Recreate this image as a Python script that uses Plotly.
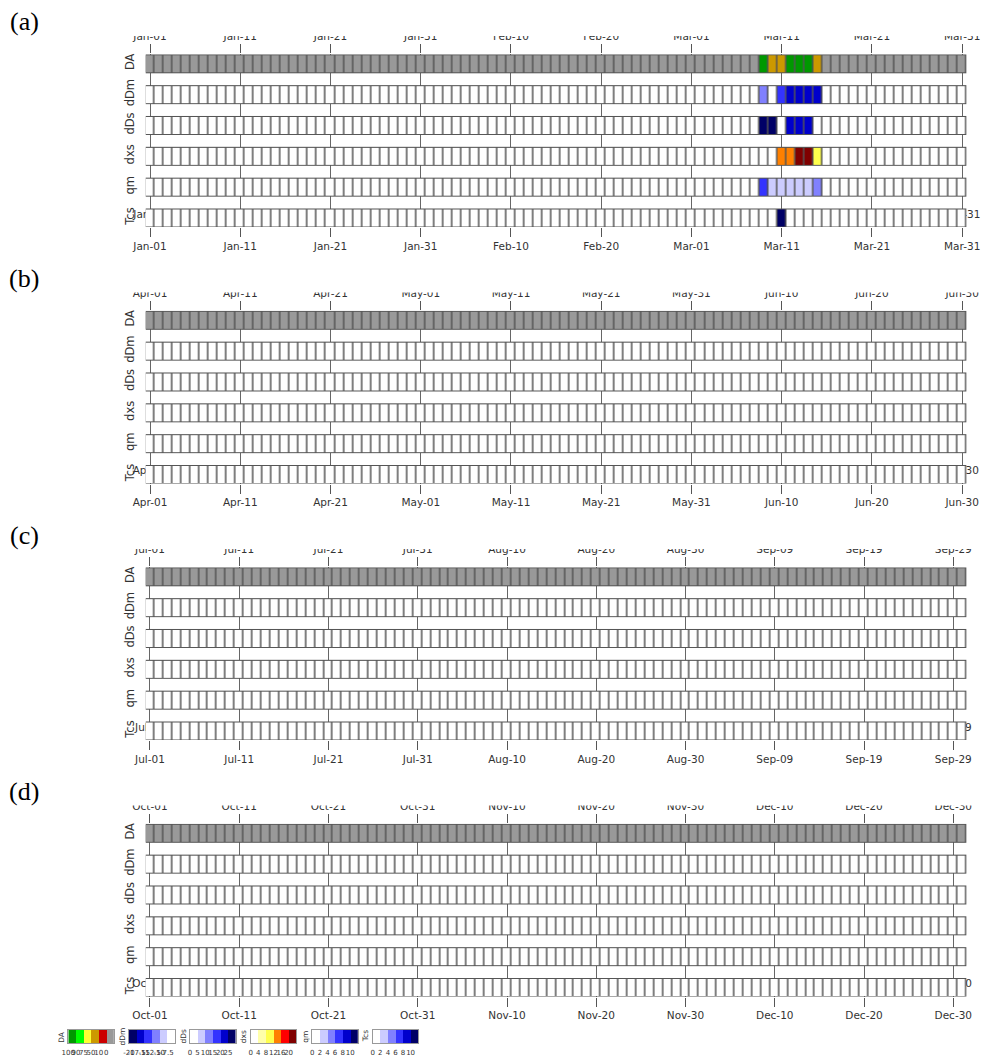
import numpy as np
import pandas as pd
import plotly.graph_objects as go

W, H = 982, 1061

# ---------------- data ----------------
quarter_starts = ["2016-01-01", "2016-04-01", "2016-07-01", "2016-10-01"]
quarter_ends = ["2016-03-31", "2016-06-30", "2016-09-30", "2016-12-31"]
panel_tags = ["(a)", "(b)", "(c)", "(d)"]
variables = ["DA", "dDm", "dDs", "dxs", "qm", "Tcs"]

# days with an event (all other days: DA = 0 -> no data, indices = 0)
event_dates = ["2016-03-09", "2016-03-10", "2016-03-11", "2016-03-12",
               "2016-03-13", "2016-03-14", "2016-03-15"]
DA_event = [95, 30, 30, 95, 95, 95, 30]
dDm_event = [-11.0, -6.0, -13.5, -16.0, -16.0, -16.0, -16.0]
dDs_event = [27, 27, 2, 22, 22, 22, 2]
dxs_event = [1, 1, 14, 14, 22, 22, 10]
qm_event = [7, 3, 3, 3, 3, 3, 5]
Tcs_event = [0, 0, 11, 0, 0, 0, 0]

# legend bin boundaries (tick labels) and colours
DA_bounds = [100, 90, 75, 50, 10, 0]
dDm_bounds = [-20, -17.5, -15, -12.5, -10, -7.5]
dDs_bounds = [0, 5, 10, 15, 20, 25]
dxs_bounds = [0, 4, 8, 12, 16, 20]
qm_bounds = [0, 2, 4, 6, 8, 10]
Tcs_bounds = [0, 2, 4, 6, 8, 10]

DA_colors = ["#009900", "#00ff00", "#ffff33", "#cc9900", "#cc0000", "#999999"]
dDm_colors = ["#000066", "#0000cc", "#3333ff", "#8080ff", "#ccccff", "#ffffff"]
dDs_colors = ["#ffffff", "#ccccff", "#8080ff", "#3333ff", "#0000cc", "#000066"]
dxs_colors = ["#ffffff", "#ffffaa", "#ffff4d", "#ff8000", "#ff0000", "#800000"]
qm_colors = ["#ffffff", "#ccccff", "#8080ff", "#3333ff", "#0000cc", "#000066"]
Tcs_colors = ["#ffffff", "#ccccff", "#8080ff", "#3333ff", "#0000cc", "#000066"]

events = {"DA": DA_event, "dDm": dDm_event, "dDs": dDs_event,
          "dxs": dxs_event, "qm": qm_event, "Tcs": Tcs_event}
bounds = {"DA": DA_bounds, "dDm": dDm_bounds, "dDs": dDs_bounds,
          "dxs": dxs_bounds, "qm": qm_bounds, "Tcs": Tcs_bounds}
colors = {"DA": DA_colors, "dDm": dDm_colors, "dDs": dDs_colors,
          "dxs": dxs_colors, "qm": qm_colors, "Tcs": Tcs_colors}

all_days = pd.date_range(quarter_starts[0], quarter_ends[-1], freq="D")
series = {}
for v in variables:
    s = pd.Series(0.0, index=all_days)
    s[pd.to_datetime(event_dates)] = events[v]
    series[v] = s


def to_bin(vals, b):
    v = np.asarray(vals, float)
    b = np.asarray(b, float)
    if b[0] > b[-1]:
        v, b = -v, -b
    idx = np.digitize(v, b) - 1
    idx = np.where(np.isnan(v), len(b) - 1, idx)
    return np.clip(idx, 0, len(b) - 1)


def discrete_scale(cols):
    n = len(cols)
    cs = []
    for i, c in enumerate(cols):
        cs.append([i / n, c])
        cs.append([(i + 1) / n, c])
    return cs


# ---------------- layout helpers ----------------
def yp(px):
    return 1 - px / H


def xp(px):
    return px / W


def akey(letter, n):
    return f"{letter}axis" if n == 1 else f"{letter}axis{n}"


def aref(letter, n):
    return letter if n == 1 else f"{letter}{n}"


counter = {"x": 0, "y": 0}


def new(letter):
    counter[letter] += 1
    return counter[letter]


layout = dict(width=W, height=H, margin=dict(l=0, r=0, t=0, b=0, autoexpand=False),
              paper_bgcolor="white", plot_bgcolor="white", showlegend=False,
              annotations=[], shapes=[])
traces = []

X0, X1 = 145.5, 966.7
ROW_H = 0.6
PANEL_STEP = 256.5
tickfont = dict(family="DejaVu Sans", size=10.5, color="#333333")

for p in range(4):
    off = PANEL_STEP * p
    xm, xt, xf = new("x"), new("x"), new("x")
    ym = new("y")
    days = pd.date_range(quarter_starts[p], quarter_ends[p], freq="D")
    edges = pd.date_range(quarter_starts[p], pd.Timestamp(quarter_ends[p]) + pd.Timedelta(days=1), freq="D")
    rng = [edges[0].strftime("%Y-%m-%d"), edges[-1].strftime("%Y-%m-%d")]
    tick_days = days[::10]
    tickvals = [(d + pd.Timedelta(hours=12)).strftime("%Y-%m-%d %H:%M") for d in tick_days]
    ticktext = [d.strftime("%b-%d") for d in tick_days]
    edge_str = [e.strftime("%Y-%m-%d") for e in edges]

    for k, v in enumerate(variables):
        yedges = [k, k + ROW_H]
        traces.append(go.Heatmap(
            x=[edge_str[0], edge_str[-1]], y=yedges, z=[[0]],
            colorscale=[[0, "#555555"], [1, "#555555"]], showscale=False,
            hoverinfo="skip", xaxis=aref("x", xm), yaxis=aref("y", ym)))
        vals = series[v][days].values
        z = to_bin(vals, bounds[v])
        traces.append(go.Heatmap(
            x=edge_str, y=yedges, z=[z.tolist()],
            colorscale=discrete_scale(colors[v]), zmin=-0.5, zmax=5.5,
            showscale=False, xgap=1.5, ygap=2,
            xaxis=aref("x", xm), yaxis=aref("y", ym),
            hovertemplate=v + " %{x}<extra></extra>"))
    for xa in (xt, xf):
        traces.append(go.Scatter(x=[], y=[], xaxis=aref("x", xa), yaxis=aref("y", ym),
                                 hoverinfo="skip"))

    dom_y = [yp(227 + off), yp(54.3 + off)]
    dom_x = [xp(X0), xp(X1)]
    common = dict(type="date", range=rng, tickmode="array", tickvals=tickvals,
                  ticktext=ticktext, zeroline=False, showline=False,
                  tickfont=tickfont, domain=dom_x, automargin=False, tickangle=0)
    layout[akey("x", xm)] = dict(common, anchor=aref("y", ym), side="bottom",
                                 ticks="outside", ticklen=9, tickcolor="#555555",
                                 tickwidth=1, showgrid=True, gridcolor="#666666",
                                 gridwidth=1)
    layout[akey("x", xt)] = dict(common, anchor=aref("y", ym), side="top",
                                 overlaying=aref("x", xm), ticks="outside",
                                 ticklen=9, tickcolor="#555555", tickwidth=1,
                                 showgrid=False)
    layout[akey("x", xf)] = dict(common, anchor="free", position=yp(206 + off),
                                 side="bottom", overlaying=aref("x", xm),
                                 ticks="", showgrid=False, layer="below traces")
    layout[akey("y", ym)] = dict(domain=dom_y, range=[5 + ROW_H, 0],
                                 anchor=aref("x", xm), tickmode="array",
                                 tickvals=[k + ROW_H / 2 for k in range(6)],
                                 ticktext=variables, tickangle=-90, ticks="",
                                 ticklabelstandoff=8, showgrid=False,
                                 zeroline=False, showline=False, automargin=False,
                                 tickfont=dict(family="DejaVu Sans", size=11.5,
                                               color="#333333"))
    # cover hiding the upper half of the top tick labels
    layout["shapes"].append(dict(type="rect", xref="paper", yref="paper",
                                 x0=xp(100), x1=1, y0=yp(36 + off), y1=yp(22 + off),
                                 fillcolor="white", line=dict(width=0), layer="above"))
    layout["annotations"].append(dict(
        text=panel_tags[p], x=xp(24), y=yp(22 + off), xref="paper", yref="paper",
        showarrow=False, xanchor="center", yanchor="middle",
        font=dict(family="Liberation Serif", size=26, color="black")))

# ---------------- legend colour keys ----------------
leg_lefts = [68.3, 129.0, 190.0, 250.7, 312.3, 372.7]
LEG_W = 45.5
for i, v in enumerate(variables):
    xl, yl = new("x"), new("y")
    traces.append(go.Heatmap(
        x=list(range(7)), y=[0, 1], z=[list(range(6))],
        colorscale=discrete_scale(colors[v]), zmin=-0.5, zmax=5.5,
        showscale=False, hoverinfo="skip",
        xaxis=aref("x", xl), yaxis=aref("y", yl)))
    layout[akey("x", xl)] = dict(
        domain=[xp(leg_lefts[i]), xp(leg_lefts[i] + LEG_W)], range=[0, 6],
        anchor=aref("y", yl), tickmode="array", tickvals=list(range(6)),
        ticktext=[f"{b:g}" for b in bounds[v]], ticks="", showgrid=False,
        zeroline=False, showline=True, mirror=True, linecolor="#999999",
        linewidth=1, automargin=False, tickangle=0, ticklabelstandoff=3,
        tickfont=dict(family="DejaVu Sans", size=7, color="#333333"))
    layout[akey("y", yl)] = dict(
        domain=[yp(1043), yp(1030)], range=[0, 1], anchor=aref("x", xl),
        showticklabels=False, ticks="", showgrid=False, zeroline=False,
        showline=True, mirror=True, linecolor="#999999", linewidth=1,
        automargin=False)
    layout["annotations"].append(dict(
        text=v, x=xp(leg_lefts[i] - 7), y=yp(1036.5), xref="paper", yref="paper",
        showarrow=False, textangle=-90, xanchor="center", yanchor="middle",
        font=dict(family="DejaVu Sans", size=7.5, color="#333333")))

fig = go.Figure(data=traces, layout=layout)
fig.write_html("out.html")
